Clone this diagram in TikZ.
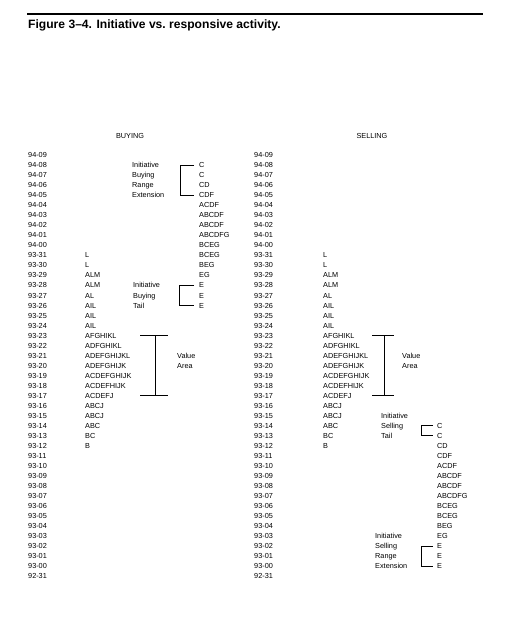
\documentclass[tikz,border=0pt]{standalone}
\usepackage{fontspec}
\setmainfont{Liberation Sans}
\usetikzlibrary{positioning}

% baseline of row #1 (row 0 = 94-09)
\newcommand{\rb}[1]{157.6+10.03*(#1)}

\begin{document}
\begin{tikzpicture}[x=1pt,y=-1pt,
  dt/.style={font=\fontsize{7.3}{8}\selectfont,inner sep=0pt,anchor=base west},
  hd/.style={dt,anchor=base},
  ttl/.style={font=\fontsize{12.1}{14}\selectfont\bfseries,inner sep=0pt,anchor=base west},
  br/.style={line width=1pt}
]
\useasboundingbox (0,0) rectangle (512,625);
% title
\coordinate (rl) at (27,14);
\coordinate (rr) at (483,14);
\draw[line width=1.5pt] (rl) -- (rr);
\node[ttl] (title) at (28,28) {Figure 3--4. Initiative vs.\ responsive activity.};
\node[hd] (buy) at (130,138) {BUYING};
\node[hd] (sell) at (372,138) {SELLING};
% dates
\foreach \d [count=\r from 0] in {94-09,94-08,94-07,94-06,94-05,94-04,94-03,94-02,94-01,94-00,
  93-31,93-30,93-29,93-28,93-27,93-26,93-25,93-24,93-23,93-22,93-21,93-20,93-19,93-18,93-17,
  93-16,93-15,93-14,93-13,93-12,93-11,93-10,93-09,93-08,93-07,93-06,93-05,93-04,93-03,93-02,
  93-01,93-00,92-31}{
  \node[dt] (b\r) at (28,{\rb{\r}}) {\d};
  \node[dt] (s\r) at (254,{\rb{\r}}) {\d};
}
% letters
\foreach \t [count=\i from 0] in {L,L,ALM,ALM,AL,AIL,AIL,AIL,AFGHIKL,ADFGHIKL,ADEFGHIJKL,
  ADEFGHIJK,ACDEFGHIJK,ACDEFHIJK,ACDEFJ,ABCJ,ABCJ,ABC,BC,B}{
  \node[dt] (ba\i) at (85,{\rb{10+\i}}) {\t};
  \node[dt] (sa\i) at (323,{\rb{10+\i}}) {\t};
}
\foreach \t [count=\i from 0] in {C,C,CD,CDF,ACDF,ABCDF,ABCDF,ABCDFG,BCEG,BCEG,BEG,EG,E,E,E}{
  \node[dt] (bb\i) at (199,{\rb{1+\i}}) {\t};
  \node[dt] (sb\i) at (437,{\rb{27+\i}}) {\t};
}
% buying notes
\foreach \t [count=\i from 0] in {Initiative,Buying,Range,Extension}
  \node[dt] (bir\i) at (132,{\rb{1+\i}}) {\t};
\foreach \t [count=\i from 0] in {Initiative,Buying,Tail}
  \node[dt] (bit\i) at (133,{\rb{13+\i}}) {\t};
\node[dt] (bval) at (177,{\rb{20}}) {Value};
\node[dt] (bare) at (177,{\rb{21}}) {Area};
\draw[br] ([xshift=-5pt]bb0.west) -- ++(-14,0) |- ([xshift=-5pt]bb3.west);
\draw[br] ([xshift=-5pt]bb12.west) -- ++(-15,0) |- ([xshift=-5pt]bb14.west);
\coordinate (bvt) at (155,{\rb{18}-2.6});
\coordinate (bvb) at (155,{\rb{24}-2.6});
\draw[br] ([xshift=-15pt]bvt) -- ([xshift=13pt]bvt) (bvt) -- (bvb)
  ([xshift=-15pt]bvb) -- ([xshift=13pt]bvb);
% selling notes
\foreach \t [count=\i from 0] in {Initiative,Selling,Tail}
  \node[dt] (sit\i) at (381,{\rb{26+\i}}) {\t};
\foreach \t [count=\i from 0] in {Initiative,Selling,Range,Extension}
  \node[dt] (sir\i) at (375,{\rb{38+\i}}) {\t};
\node[dt] (sval) at (402,{\rb{20}}) {Value};
\node[dt] (sare) at (402,{\rb{21}}) {Area};
\draw[br] ([xshift=-4pt]sb0.west) -- ++(-12,0) |- ([xshift=-4pt]sb1.west);
\draw[br] ([xshift=-4pt]sb12.west) -- ++(-12,0) |- ([xshift=-4pt]sb14.west);
\coordinate (svt) at (384,{\rb{18}-2.6});
\coordinate (svb) at (384,{\rb{24}-2.6});
\draw[br] ([xshift=-12pt]svt) -- ([xshift=10pt]svt) (svt) -- (svb)
  ([xshift=-12pt]svb) -- ([xshift=10pt]svb);
\end{tikzpicture}
\end{document}
